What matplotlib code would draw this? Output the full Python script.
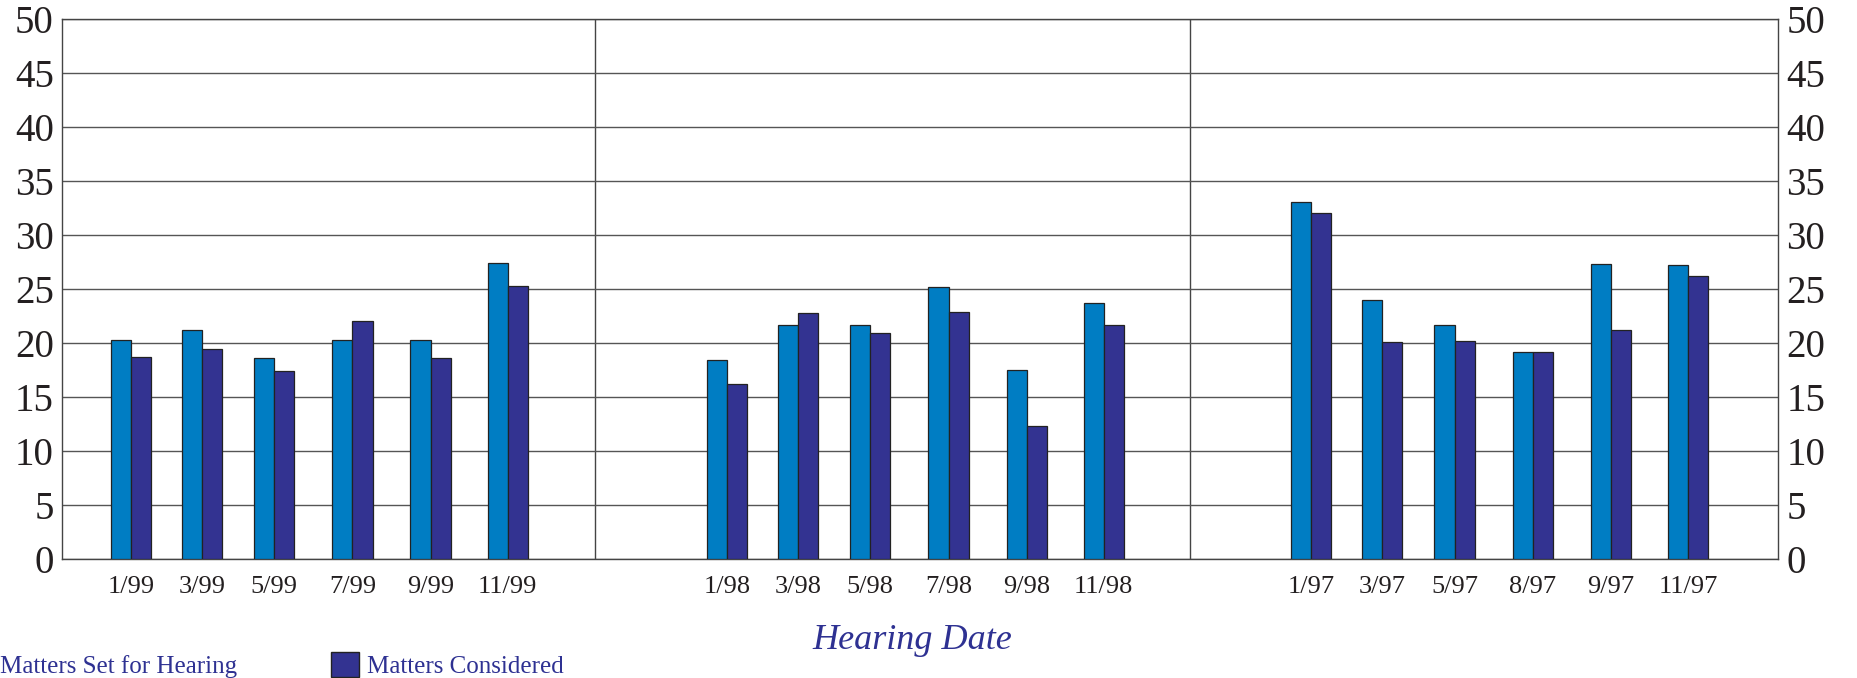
import numpy as np
import matplotlib.pyplot as plt
from matplotlib.patches import Patch

# данные
labels_99 = ['1/99', '3/99', '5/99', '7/99', '9/99', '11/99']
labels_98 = ['1/98', '3/98', '5/98', '7/98', '9/98', '11/98']
labels_97 = ['1/97', '3/97', '5/97', '8/97', '9/97', '11/97']

set_99 = [20.3, 21.2, 18.6, 20.3, 20.3, 27.4]
cons_99 = [18.7, 19.4, 17.4, 22.0, 18.6, 25.3]
set_98 = [18.4, 21.7, 21.7, 25.2, 17.5, 23.7]
cons_98 = [16.2, 22.8, 20.9, 22.9, 12.3, 21.7]
set_97 = [33.1, 24.0, 21.7, 19.2, 27.3, 27.2]
cons_97 = [32.0, 20.1, 20.2, 19.2, 21.2, 26.2]

groups = [(labels_99, set_99, cons_99),
          (labels_98, set_98, cons_98),
          (labels_97, set_97, cons_97)]

c_set = '#007DC3'
c_cons = '#333391'
c_text = '#2E3192'
font = 'Liberation Serif'

fig = plt.figure(figsize=(18.58, 6.78), dpi=100)
ax = fig.add_axes([0.0334, 0.1755, 0.9236, 0.7965])

# раскладка панелей (в условных единицах оси x)
panel_left = [0, 450, 952]
first_off = [58, 111, 102]
slot_off = np.array([0, 60, 121, 187, 253, 318])
bar_w = 17

all_pos = []
all_labels = []
for g, (labs, s, c) in enumerate(groups):
    pos = panel_left[g] + first_off[g] + slot_off[:len(labs)]
    ax.bar(pos - bar_w / 2, s, bar_w, color=c_set, edgecolor='#222222',
           linewidth=0.9, zorder=3)
    ax.bar(pos + bar_w / 2, c, bar_w, color=c_cons, edgecolor='#222222',
           linewidth=0.9, zorder=3)
    all_pos.extend(pos)
    all_labels.extend(labs)

for xd in panel_left[1:]:
    ax.axvline(xd, color='#444444', linewidth=1.0, zorder=1)

ax.set_xlim(0, 1448)
ax.set_ylim(0, 50)
ax.set_yticks(range(0, 51, 5))
ax.yaxis.grid(True, color='#555555', linewidth=1.0, zorder=0)
ax.set_xticks(all_pos)
ax.set_xticklabels(all_labels)
ax.tick_params(axis='y', length=0, labelsize=28, labelleft=True,
               labelright=True, pad=6, labelcolor='#231f20',
               labelfontfamily=font)
ax.tick_params(axis='x', length=0, pad=12, labelsize=19,
               labelcolor='#231f20', labelfontfamily=font)
for sp in ax.spines.values():
    sp.set_color('#444444')
    sp.set_linewidth(1.0)

fig.text(0.491, 0.056, 'Hearing Date', fontfamily=font, style='italic',
         fontsize=26, color=c_text, ha='center', va='center')

handles = [Patch(facecolor=c_set, edgecolor='#222222', label='Matters Set for Hearing'),
           Patch(facecolor=c_cons, edgecolor='#222222', label='Matters Considered')]
leg = fig.legend(handles=handles, loc='lower left', bbox_to_anchor=(-0.0194, 0.0),
                 ncol=2, frameon=False, borderpad=0, borderaxespad=0,
                 handlelength=1.12, handleheight=1.12, handletextpad=0.32,
                 columnspacing=3.76, prop={'family': font, 'size': 18})
for t in leg.get_texts():
    t.set_color(c_text)

fig.savefig('out.png', dpi=100)
